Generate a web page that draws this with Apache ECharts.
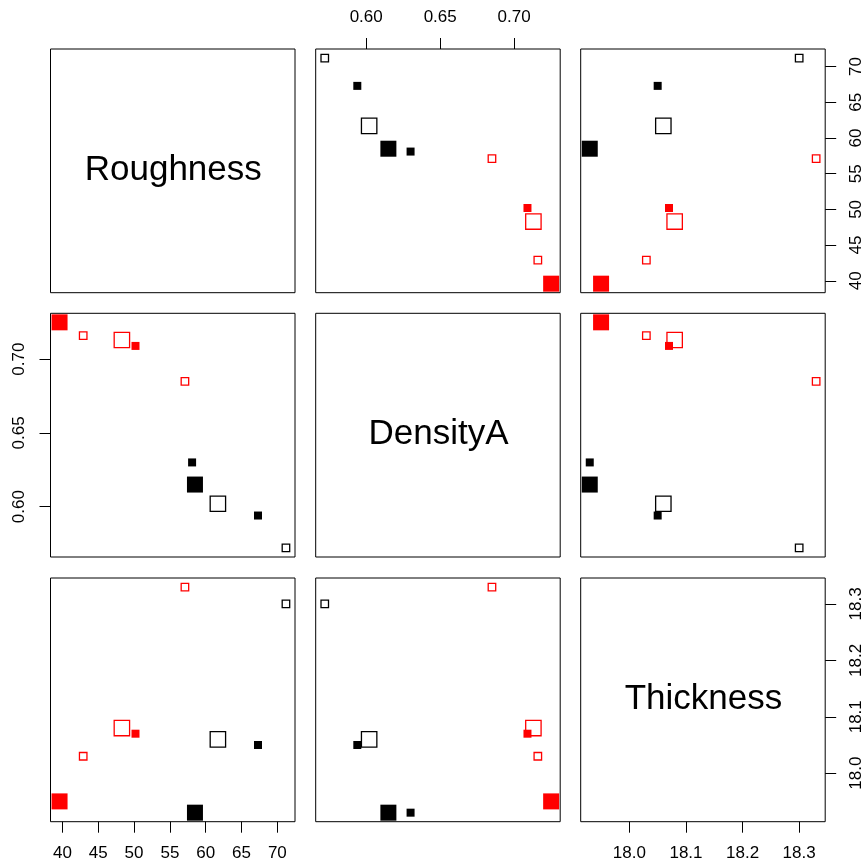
<!DOCTYPE html>
<html>
<head>
<meta charset="utf-8">
<script src="https://cdn.jsdelivr.net/npm/echarts@6/dist/echarts.min.js"></script>
<style>html,body{margin:0;padding:0;background:#fff}#c{width:866px;height:864px}</style>
</head>
<body>
<div id="c"></div>
<script>
// ---- data ----
const variables = ['Roughness', 'DensityA', 'Thickness'];
const roughness = [39.6, 42.9, 48.3, 50.2, 57.1, 58.1, 58.5, 61.7, 67.3, 71.2];
const densityA  = [0.725, 0.716, 0.713, 0.709, 0.685, 0.630, 0.615, 0.602, 0.594, 0.572];
const thickness = [17.95, 18.03, 18.08, 18.07, 18.33, 17.93, 17.93, 18.06, 18.05, 18.30];
const pointColor  = ['#FF0000','#FF0000','#FF0000','#FF0000','#FF0000','#000000','#000000','#000000','#000000','#000000'];
const pointFilled = [true, false, false, true, false, true, true, false, true, false];
const pointLarge  = [true, false, true, false, false, false, true, true, false, false];
const roughnessTicks = [40, 45, 50, 55, 60, 65, 70];
const densityTicks   = [0.60, 0.65, 0.70];
const thicknessTicks = [18.0, 18.1, 18.2, 18.3];

const columns = [roughness, densityA, thickness];
const tickSets = [roughnessTicks, densityTicks, thicknessTicks];
const tickDigits = [0, 2, 1];

// ---- layout ----
const colLeft = [50.5, 315.7, 580.7];
const rowTop = [49, 313.3, 578];
const panelW = 244.5, panelH = 243.7;
const FONT = 'Liberation Sans, Arial, Helvetica, sans-serif';

function rangeOf(arr) {
  const mn = Math.min(...arr), mx = Math.max(...arr);
  const e = (mx - mn) * 0.04;
  return [mn - e, mx + e];
}
const ranges = columns.map(rangeOf);

const grids = [], xAxes = [], yAxes = [], series = [], graphics = [];

function axisDef(v, gi, pos, show) {
  return {
    type: 'value', gridIndex: gi, position: pos,
    min: ranges[v][0], max: ranges[v][1],
    axisLine: { show: false },
    splitLine: { show: false },
    axisTick: show ? { show: true, inside: false, length: 11, lineStyle: { color: '#000', width: 1 }, customValues: tickSets[v] } : { show: false },
    axisLabel: show ? {
      show: true, customValues: tickSets[v], margin: 23,
      color: '#000', fontSize: 17, fontFamily: FONT,
      formatter: (val) => Number(val).toFixed(tickDigits[v]),
      showMinLabel: true, showMaxLabel: true
    } : { show: false }
  };
}

for (let r = 0; r < 3; r++) {
  for (let c = 0; c < 3; c++) {
    const gi = r * 3 + c;
    grids.push({ left: colLeft[c], top: rowTop[r], width: panelW, height: panelH,
      show: true, borderColor: '#000', borderWidth: 1, backgroundColor: 'transparent', containLabel: false });
    const showX = (r === 2 && c !== 1) || (r === 0 && c === 1);
    const xPos = (r === 0) ? 'top' : 'bottom';
    const showY = (c === 2 && r !== 1) || (c === 0 && r === 1);
    const yPos = (c === 0) ? 'left' : 'right';
    const xa = axisDef(c, gi, xPos, showX);
    const ya = axisDef(r, gi, yPos, showY);
    if (showY) { ya.axisLabel.rotate = 90; }
    xAxes.push(xa); yAxes.push(ya);
    if (r === c) {
      graphics.push({ type: 'text', x: colLeft[c] + panelW / 2 + 0.5, y: rowTop[r] + panelH / 2 - 1,
        style: { text: variables[r], font: '35px ' + FONT, fill: '#000', textAlign: 'center', textVerticalAlign: 'middle' } });
      continue;
    }
    const data = columns[c].map((xv, i) => {
      const filled = pointFilled[i];
      const size = pointLarge[i] ? (filled ? 16 : 15.4) : (filled ? 8 : 7.5);
      return {
        value: [xv, columns[r][i]],
        symbolSize: size,
        itemStyle: filled ? { color: pointColor[i], borderWidth: 0, opacity: 1 }
                          : { color: 'rgba(0,0,0,0)', borderColor: pointColor[i], borderWidth: 1.3, opacity: 1 }
      };
    });
    series.push({ type: 'scatter', xAxisIndex: gi, yAxisIndex: gi, symbol: 'rect', data,
      itemStyle: { opacity: 1 }, silent: true, emphasis: { disabled: true }, clip: true });
  }
}

const chart = echarts.init(document.getElementById('c'), null, { renderer: 'canvas' });
chart.setOption({
  animation: false,
  backgroundColor: '#fff',
  grid: grids, xAxis: xAxes, yAxis: yAxes, series,
  graphic: graphics
});
</script>
</body>
</html>
